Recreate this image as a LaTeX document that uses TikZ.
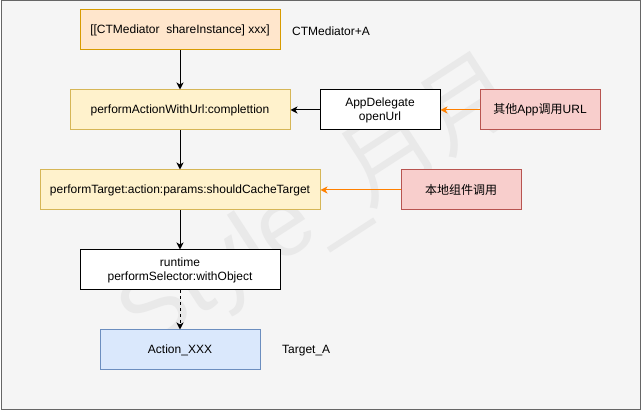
\documentclass[tikz,border=0pt]{standalone}
\usepackage{fontspec}
\setmainfont{Liberation Sans}
\newfontfamily\cjk{Noto Sans CJK SC}
\usetikzlibrary{arrows.meta}
\definecolor{bgfill}{HTML}{F5F5F5}
\definecolor{bgline}{HTML}{666666}
\definecolor{orfill}{HTML}{FFE6CC}
\definecolor{orline}{HTML}{D79B00}
\definecolor{yefill}{HTML}{FFF2CC}
\definecolor{yeline}{HTML}{D6B656}
\definecolor{rdfill}{HTML}{F8CECC}
\definecolor{rdline}{HTML}{B85450}
\definecolor{blfill}{HTML}{DAE8FC}
\definecolor{blline}{HTML}{6C8EBF}
\definecolor{arrow}{HTML}{FF8000}
\definecolor{wmark}{HTML}{E9E9E9}
\tikzset{
  box/.style={draw, line width=1pt, inner sep=0pt, align=center,
    font=\fontsize{12}{14}\selectfont},
  lbl/.style={inner sep=0pt, anchor=west, font=\fontsize{12}{14}\selectfont},
  conn/.style={line width=1pt, -{Stealth[length=7pt,width=7pt,inset=2pt]}},
  oconn/.style={conn, draw=arrow},
}
\begin{document}
\begin{tikzpicture}[x=1pt,y=-1pt]
\useasboundingbox (0,0) rectangle (641,411);
\draw[fill=bgfill, draw=bgline, line width=1pt] (1,1) rectangle (640,410);
% watermark
\node[wmark, rotate=33, inner sep=0pt, font=\fontsize{95}{100}\selectfont] (wm) at (320,205) {Style\_{\cjk 月月}};
% boxes
\node[box, fill=orfill, draw=orline, minimum width=200pt, minimum height=40pt] (b1) at (180,30) {[[CTMediator\ \ shareInstance] xxx]};
\node[lbl] (l1) at (292,31) {CTMediator+A};
\node[box, fill=yefill, draw=yeline, minimum width=220pt, minimum height=40pt] (b2) at (180,110) {performActionWithUrl:complettion};
\node[box, fill=white, draw=black, minimum width=120pt, minimum height=40pt] (b3) at (380,110) {AppDelegate\\openUrl};
\node[box, fill=rdfill, draw=rdline, minimum width=120pt, minimum height=40pt] (b4) at (540,110) {{\cjk 其他}App{\cjk 调用}URL};
\node[box, fill=yefill, draw=yeline, minimum width=280pt, minimum height=40pt] (b5) at (180,190) {performTarget:action:params:shouldCacheTarget};
\node[box, fill=rdfill, draw=rdline, minimum width=120pt, minimum height=40pt] (b6) at (461,190) {\cjk 本地组件调用};
\node[box, fill=white, draw=black, minimum width=200pt, minimum height=40pt] (b7) at (180,270) {runtime\\performSelector:withObject};
\node[box, fill=blfill, draw=blline, minimum width=160pt, minimum height=40pt] (b8) at (180,350) {Action\_XXX};
\node[lbl] (l2) at (282,351) {Target\_A};
% connectors
\draw[conn] (b1) -- (b2);
\draw[conn] (b2) -- (b5);
\draw[conn] (b5) -- (b7);
\draw[conn, dashed, dash pattern=on 3pt off 3pt] (b7) -- (b8);
\draw[conn] (b3) -- (b2);
\draw[oconn] (b4) -- (b3);
\draw[oconn] (b6) -- (b5);
\end{tikzpicture}
\end{document}
